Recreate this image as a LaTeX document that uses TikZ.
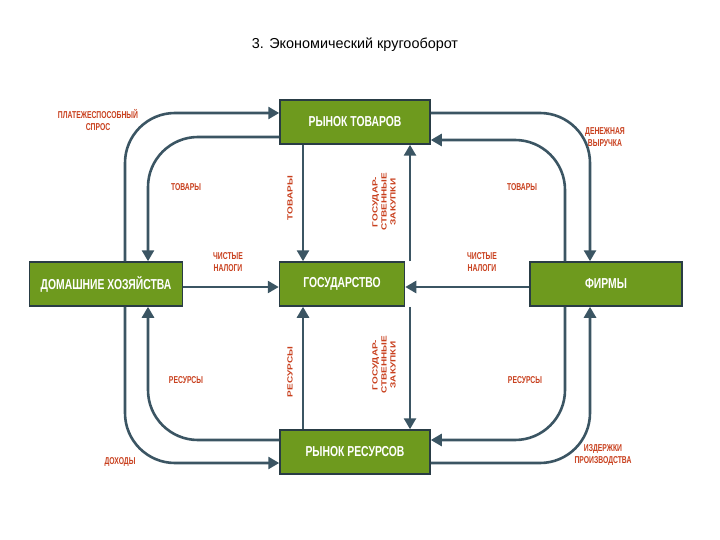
\documentclass[tikz,border=0pt]{standalone}
\usepackage{fontspec}
\setmainfont{Liberation Sans}
\usetikzlibrary{arrows.meta}
\definecolor{bx}{HTML}{6E9A1E}
\definecolor{ar}{HTML}{3B5563}
\definecolor{lb}{HTML}{C8401E}
\tikzset{
 box/.style={draw=ar!70!black,line width=1.5pt,fill=bx,minimum height=44pt,inner sep=2pt},
 boxtxt/.style={text=white,font=\bfseries\Large,xscale=0.72,inner sep=0pt},
 flow/.style={draw=ar,line width=2.6pt,-{Triangle[length=11pt,width=12pt]},rounded corners=50pt},
 lab/.style={text=lb,font=\bfseries\normalsize,align=center,inner sep=0pt,xscale=0.68},
 vlab/.style={text=lb,font=\bfseries\normalsize,align=center,inner sep=0pt,rotate=90,yscale=0.75},
}
\begin{document}
\begin{tikzpicture}[x=1pt,y=-1pt]
\useasboundingbox (0,0) rectangle (720,540);
\node[font=\Large] (title) at (355,45) {3. Экономический кругооборот};
\node[box,minimum width=150pt] (mg) at (355,122) {};
\node[box,minimum width=153pt] (hh) at (106,284) {};
\node[box,minimum width=125pt] (gov) at (342,284) {};
\node[box,minimum width=152pt] (fi) at (606,284) {};
\node[box,minimum width=150pt] (mr) at (355,452) {};
\node[boxtxt] (mgt) at (mg) {РЫНОК ТОВАРОВ};
\node[boxtxt] (hht) at (hh) {ДОМАШНИЕ ХОЗЯЙСТВА};
\node[boxtxt] (govt) at (gov) {ГОСУДАРСТВО};
\node[boxtxt] (fit) at (fi) {ФИРМЫ};
\node[boxtxt] (mrt) at (mr) {РЫНОК РЕСУРСОВ};
% top-left
\draw[flow] (hh.north -| 125,0) |- (mg.west |- 0,113);
\draw[flow] (mg.west |- 0,137) -| (hh.north -| 148,0);
% top-right
\draw[flow] (mg.east |- 0,113) -| (fi.north -| 590,0);
\draw[flow] (fi.north -| 565,0) |- (mg.east |- 0,140);
% bottom-left
\draw[flow] (hh.south -| 125,0) |- (mr.west |- 0,463);
\draw[flow] (mr.west |- 0,440) -| (hh.south -| 148,0);
% bottom-right
\draw[flow] (fi.south -| 565,0) |- (mr.east |- 0,440);
\draw[flow] (mr.east |- 0,463) -| (fi.south -| 590,0);
% verticals
\draw[flow] (mg.south -| 303,0) -- (gov.north -| 303,0);
\draw[flow] (gov.north -| 410,0) -- (mg.south -| 410,0);
\draw[flow] (mr.north -| 303,0) -- (gov.south -| 303,0);
\draw[flow] (gov.south -| 410,0) -- (mr.north -| 410,0);
% horizontals
\draw[flow] (hh.east |- 0,287) -- (gov.west |- 0,287);
\draw[flow] (fi.west |- 0,287) -- (gov.east |- 0,287);
% labels
\node[lab] (l1) at (98,120) {ПЛАТЕЖЕСПОСОБНЫЙ\\СПРОС};
\node[lab] (l2) at (186,187) {ТОВАРЫ};
\node[lab] (l3) at (228,262) {ЧИСТЫЕ\\НАЛОГИ};
\node[vlab] (l4) at (290,198) {ТОВАРЫ};
\node[vlab] (l5) at (384,202) {ГОСУДАР-\\СТВЕННЫЕ\\ЗАКУПКИ};
\node[lab] (l6) at (605,137) {ДЕНЕЖНАЯ\\ВЫРУЧКА};
\node[lab] (l7) at (522,187) {ТОВАРЫ};
\node[lab] (l8) at (482,262) {ЧИСТЫЕ\\НАЛОГИ};
\node[lab] (l9) at (186,380) {РЕСУРСЫ};
\node[vlab] (l10) at (290,372) {РЕСУРСЫ};
\node[vlab] (l11) at (384,365) {ГОСУДАР-\\СТВЕННЫЕ\\ЗАКУПКИ};
\node[lab] (l12) at (525,380) {РЕСУРСЫ};
\node[lab] (l13) at (120,462) {ДОХОДЫ};
\node[lab] (l14) at (603,455) {ИЗДЕРЖКИ\\ПРОИЗВОДСТВА};
\end{tikzpicture}
\end{document}
